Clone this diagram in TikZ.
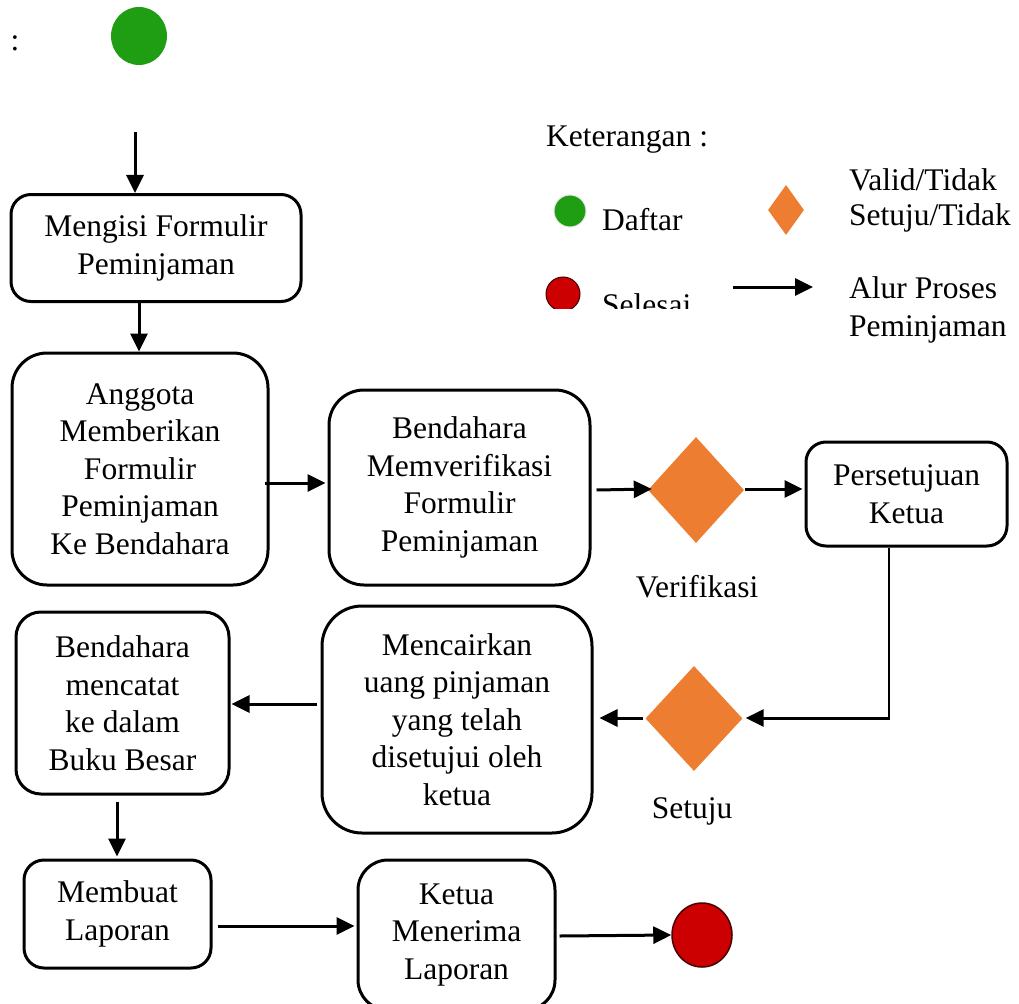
\documentclass[tikz,border=0pt]{standalone}
\usepackage{fontspec}
\setmainfont{Liberation Serif}
\usetikzlibrary{arrows.meta,shapes.geometric,calc}
\definecolor{startgreen}{RGB}{31,158,20}
\definecolor{endred}{RGB}{204,0,0}
\definecolor{dia}{RGB}{237,125,49}
\begin{document}
\begin{tikzpicture}[x=1pt,y=-1pt,
  every node/.style={font=\fontsize{31.5}{37.5}\selectfont},
  box/.style={draw,line width=3pt,align=center,inner sep=0pt},
  dec/.style={diamond,fill=dia,draw=none,inner sep=0pt},
  arr/.style={line width=3pt,-{Triangle[length=18pt,width=17pt]}},
  lbl/.style={inner sep=0pt}]
\useasboundingbox (0,0) rectangle (1019,1003);
% start
\node[lbl] (colon) at (15,43) {:};
\node[ellipse,fill=startgreen,minimum width=56pt,minimum height=58pt,inner sep=0pt] (start) at (139,36) {};
% boxes
\node[box,rounded corners=20pt,minimum width=290pt,minimum height=107pt] (b1) at (156,248) {Mengisi Formulir\\Peminjaman};
\node[box,rounded corners=35pt,minimum width=256pt,minimum height=232pt] (b2) at (140,469) {Anggota\\Memberikan\\Formulir\\Peminjaman\\Ke Bendahara};
\node[box,rounded corners=35pt,minimum width=261pt,minimum height=195pt] (b3) at (459.5,487.5) {Bendahara\\Memverifikasi\\Formulir\\Peminjaman};
\node[dec,minimum width=96pt,minimum height=106pt] (d1) at (696,490) {};
\node[box,rounded corners=20pt,minimum width=201pt,minimum height=104pt] (b4) at (906.5,494) {Persetujuan\\Ketua};
\node[lbl] (verif) at (697,587) {Verifikasi};
\node[dec,minimum width=97pt,minimum height=105pt] (d2) at (694,718.5) {};
\node[lbl] (setuju) at (692,811) {Setuju};
\node[box,rounded corners=40pt,minimum width=270pt,minimum height=227pt] (b5) at (457,719.5) {Mencairkan\\uang pinjaman\\yang telah\\disetujui oleh\\ketua};
\node[box,rounded corners=25pt,minimum width=213pt,minimum height=182pt] (b6) at (122.5,703) {Bendahara\\mencatat\\ke dalam\\Buku Besar};
\node[box,rounded corners=20pt,minimum width=187pt,minimum height=108pt] (b7) at (117.5,914) {Membuat\\Laporan};
\node[box,rounded corners=30pt,minimum width=197pt,minimum height=150pt] (b8) at (456.5,935) {Ketua\\Menerima\\Laporan};
\node[ellipse,fill=endred,draw={rgb,255:red,70;green,0;blue,0},line width=1.5pt,minimum width=60pt,minimum height=64pt,inner sep=0pt] (end) at (702,935) {};
% connectors
\coordinate (s0) at (135,132);
\draw[arr] (s0) -- (s0 |- b1.north);
\draw[arr] ($(b1.south)+(-17,-2)$) -- ($(b2.north)+(-1,0)$);
\draw[arr] ($(b2.east)+(-5,14)$) -- ($(b3.west)+(-2,-4.5)$);
\draw[arr] ($(b3.east)+(5,2.5)$) -- ($(d1.west)+(4,-1)$);
\draw[arr] ($(d1.east)+(1,-1)$) -- ($(b4.west)+(-2,-5)$);
\coordinate (turn) at (889,718);
\draw[line width=1.5pt] ($(b4.south)+(-17.5,0)$) -- (turn);
\draw[arr] ($(turn)+(1,0)$) -- ($(d2.east)+(3,-0.5)$);
\draw[arr] ($(d2.west)+(-2,-0.5)$) -- ($(b5.east)+(6,-1.5)$);
\draw[arr] ($(b5.west)+(-4,-15.5)$) -- ($(b6.east)+(1,1)$);
\draw[arr] ($(b6.south)+(-5.5,6)$) -- ($(b7.north)+(-0.5,-2)$);
\draw[arr] ($(b7.east)+(5,12)$) -- ($(b8.west)+(-2,-9)$);
\draw[arr] ($(b8.east)+(3,1)$) -- (end.west);
% legend
\node[lbl,anchor=west] (ket) at (546,140) {Keterangan :};
\node[circle,fill=startgreen,draw=black!10,line width=1pt,minimum size=32pt,inner sep=0pt] (lgstart) at (570,211) {};
\node[lbl,anchor=west] (daftar) at (602,220) {Daftar};
\node[dec,minimum width=36pt,minimum height=50pt] (lgdia) at (786,210) {};
\node[lbl,anchor=west,align=left,font=\fontsize{31.5}{35}\selectfont] (valid) at (849,200) {Valid/Tidak\\Setuju/Tidak};
\begin{scope}
\clip (520,255) rectangle (720,308);
\node[circle,fill=endred,draw={rgb,255:red,70;green,0;blue,0},line width=1pt,minimum size=34pt,inner sep=0pt] (lgend) at (563,294) {};
\node[lbl,anchor=base west] (selesai) at (602,315) {Selesai};
\end{scope}
\coordinate (la1) at (733,287);
\coordinate (la2) at (813,287);
\draw[arr] (la1) -- (la2);
\node[lbl,anchor=west,align=left] (alur) at (849,310) {Alur Proses\\Peminjaman};
\end{tikzpicture}
\end{document}
